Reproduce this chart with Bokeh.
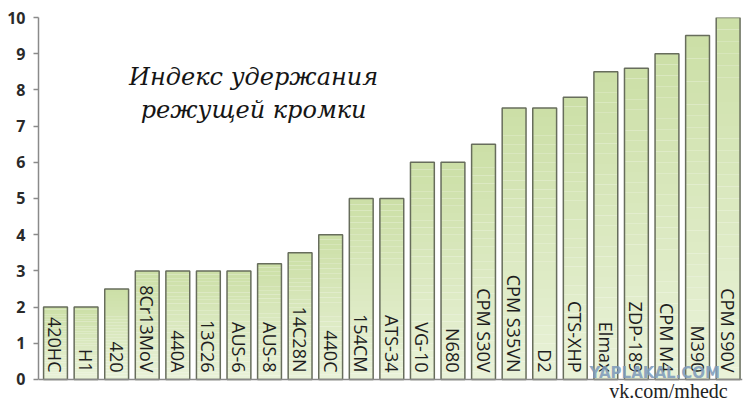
import numpy as np
from bokeh.plotting import figure
from bokeh.models import Label, Range1d, FixedTicker, Span
from bokeh.embed import file_html
from bokeh.resources import INLINE
from bokeh.core.properties import value

# ---- data ----
steels = ["420HC", "H1", "420", "8Cr13MoV", "440A", "13C26", "AUS-6", "AUS-8",
          "14C28N", "440C", "154CM", "ATS-34", "VG-10", "N680", "CPM S30V",
          "CPM S35VN", "D2", "CTS-XHP", "Elmax", "ZDP-189", "CPM M4", "M390",
          "CPM S90V"]
edge_index = [2, 2, 2.5, 3, 3, 3, 3, 3.2, 3.5, 4, 5, 5, 6, 6, 6.5, 7.5, 7.5,
              7.8, 8.5, 8.6, 9, 9.5, 10]
y_ticks = [0, 1, 2, 3, 4, 5, 6, 7, 8, 9, 10]
title_lines = ["Индекс удержания", "режущей кромки"]
credit = "vk.com/mhedc"
watermark = "YAPLAKAL.COM"

# ---- styling ----
TOP_COL = (0xCB, 0xDF, 0xA6)
BOT_COL = (0xEA, 0xF2, 0xD9)
BAR_W = 0.78
N_BANDS = 30

idx = list(range(len(steels)))

p = figure(width=746, height=401, output_backend="svg", toolbar_location=None,
           x_range=Range1d(-0.556, 22.47), y_range=Range1d(-0.553, 10),
           min_border_left=38, min_border_right=4, min_border_top=17,
           min_border_bottom=2)
p.background_fill_color = "white"
p.border_fill_color = "white"
p.outline_line_color = None
p.grid.visible = False
p.xaxis.visible = False

# gradient-filled bars: bands derived from each bar's value
lefts, rights, bottoms, tops, colors = [], [], [], [], []
for i, v in zip(idx, edge_index):
    for k in range(N_BANDS):
        frac = (k + 0.5) / N_BANDS
        c = tuple(int(round(BOT_COL[j] + (TOP_COL[j] - BOT_COL[j]) * frac)) for j in range(3))
        lefts.append(i - BAR_W / 2)
        rights.append(i + BAR_W / 2)
        bottoms.append(v * k / N_BANDS)
        tops.append(v * (k + 1) / N_BANDS)
        colors.append("#%02x%02x%02x" % c)
p.quad(left=lefts, right=rights, bottom=bottoms, top=tops,
       fill_color=colors, line_color=None)
p.vbar(x=idx, top=edge_index, width=BAR_W, bottom=0,
       fill_alpha=0, line_color="#676d5c", line_width=1.5)

# baseline
p.add_layout(Span(location=0, dimension="width", line_color="#8a8a8a",
                  line_width=1.5))

# labels inside bars
p.text(x=idx, y=[0] * len(idx), text=steels, angle=-np.pi / 2,
       text_align="right", text_baseline="middle", y_offset=-7,
       text_font=value("Open Sans"), text_font_size="18px",
       text_color="#1e1e1e")

# y axis
p.yaxis.bounds = (0, 10)
p.yaxis.ticker = FixedTicker(ticks=y_ticks)
p.yaxis.major_label_text_font = "Open Sans"
p.yaxis.major_label_text_font_style = "bold"
p.yaxis.major_label_text_font_size = "16px"
p.yaxis.major_label_text_color = "#2a2a2a"
p.yaxis.axis_line_color = "#8a8a8a"
p.yaxis.axis_line_width = 1.5
p.yaxis.major_tick_line_color = "#8a8a8a"
p.yaxis.major_tick_line_width = 1.5
p.yaxis.major_tick_out = 5
p.yaxis.major_tick_in = 0
p.yaxis.minor_tick_line_color = None
p.yaxis.major_label_standoff = 8

# title
for line, yy in zip(title_lines, [8.35, 7.44]):
    p.add_layout(Label(x=6.48, y=yy, text=line, text_align="center",
                       text_baseline="middle", text_font="DejaVu Serif",
                       text_font_style="italic", text_font_size="24px",
                       text_color="#151515"))

# watermark and credit
p.add_layout(Label(x=19.6, y=0.17, text=watermark, text_align="center",
                   text_baseline="middle", text_font="DejaVu Sans",
                   text_font_style="bold", text_font_size="15px",
                   text_color="#7f9cbb", text_alpha=0.9, level="overlay"))
p.add_layout(Label(x=20.05, y=-0.33, text=credit, text_align="center",
                   text_baseline="middle", text_font="Liberation Serif",
                   text_font_size="20px", text_color="#222222"))

open("out.html", "w").write(file_html(p, INLINE))
